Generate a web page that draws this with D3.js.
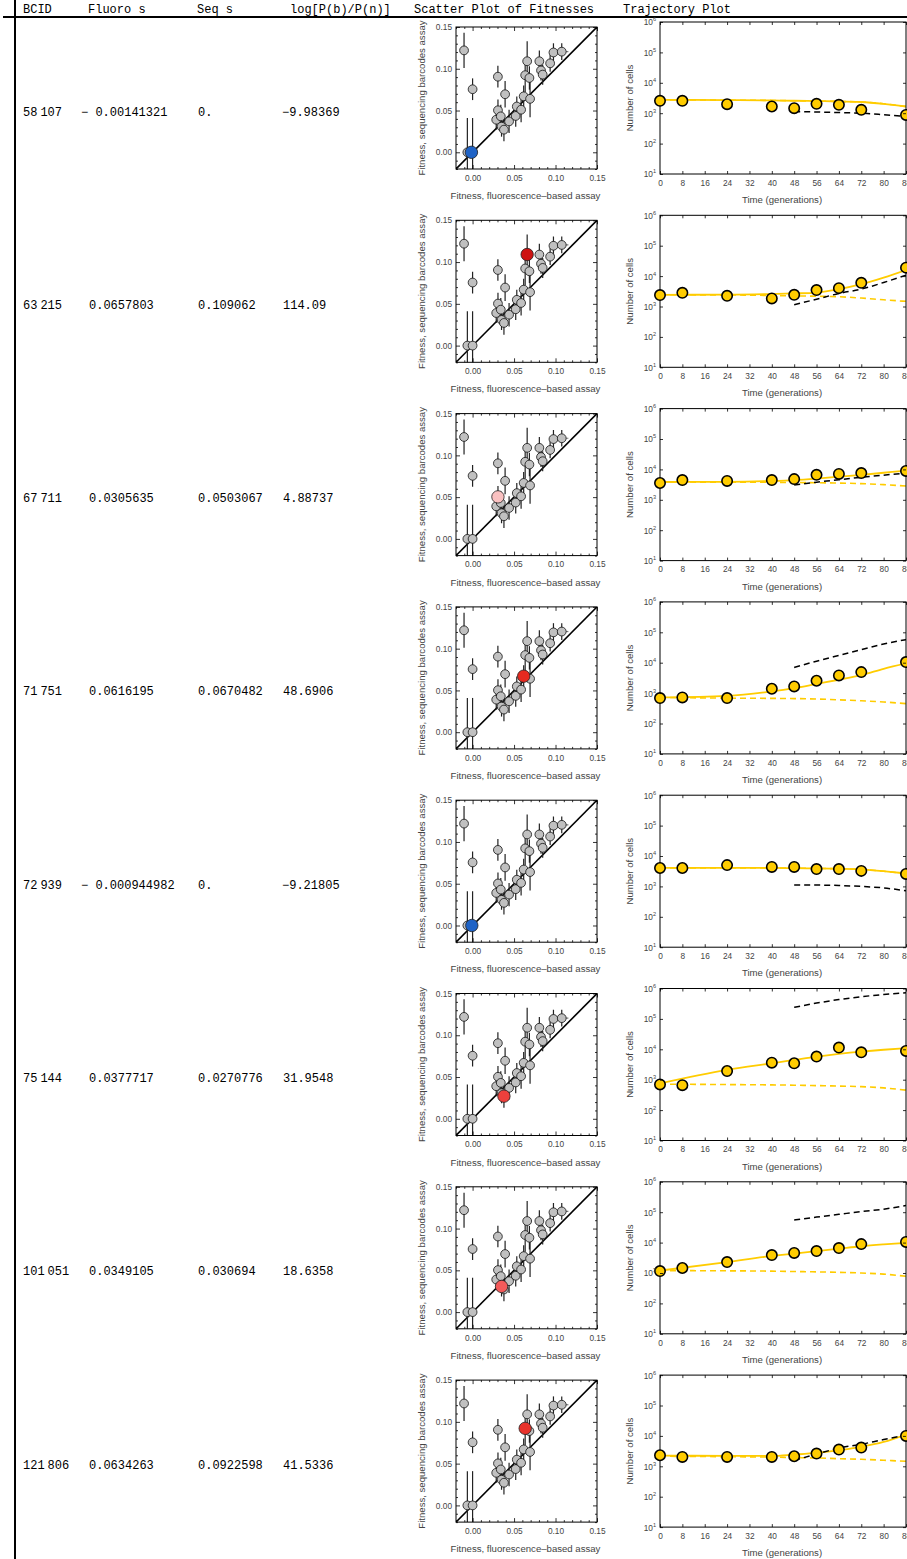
<!DOCTYPE html>
<html>
<head>
<meta charset="utf-8">
<script src="https://cdn.jsdelivr.net/npm/d3@7"></script>
<style>
  body { margin: 0; background: #fff; }
</style>
</head>
<body>
<div id="chart"></div>
<script>
// ---- table data -------------------------------------------------------
const headers = ["BCID", "Fluoro s", "Seq s", "log[P(b)/P(n)]", "Scatter Plot of Fitnesses", "Trajectory Plot"];
const bcids = [58107, 63215, 67711, 71751, 72939, 75144, 101051, 121806];
const fluoroS = [-0.00141321, 0.0657803, 0.0305635, 0.0616195, -0.000944982, 0.0377717, 0.0349105, 0.0634263];
const seqS = [0, 0.109062, 0.0503067, 0.0670482, 0, 0.0270776, 0.030694, 0.0922598];
const logRatio = [-9.98369, 114.09, 4.88737, 48.6906, -9.21805, 31.9548, 18.6358, 41.5336];

// ---- background population of fitness estimates ------------------------
const popFluoro = [-0.0103, 0.0, -0.0063, 0.0, 0.0305, 0.0392, 0.0285, 0.0306, 0.034, 0.0349, 0.0378, 0.044, 0.052, 0.0533, 0.0585, 0.0616, 0.0634, 0.0658, 0.0685, 0.0693, 0.0805, 0.0825, 0.0845, 0.0935, 0.0975, 0.1075];
const popSeq = [0.122, 0.0755, 0, 0, 0.0905, 0.0695, 0.039, 0.0503, 0.043, 0.0307, 0.0271, 0.037, 0.0435, 0.0548, 0.051, 0.067, 0.0923, 0.109, 0.089, 0.064, 0.109, 0.098, 0.093, 0.1065, 0.1195, 0.1205];
const popSeqErr = [0.021, 0.013, 0.041, 0.041, 0.013, 0.016, 0.012, 0.013, 0.014, 0.012, 0.014, 0.014, 0.013, 0.012, 0.015, 0.013, 0.02, 0.024, 0.014, 0.022, 0.013, 0.012, 0.012, 0.01, 0.011, 0.01];
const popFluoroErr = [0, 0, 0, 0, 0, 0, 0, 0, 0, 0, 0, 0, 0, 0, 0, 0, 0, 0, 0, 0, 0.004, 0, 0, 0.004, 0.004, 0.008];
const fitnessTicks = [0, 0.05, 0.10, 0.15];

// ---- trajectories --------------------------------------------------------
const sampleTimes = [0, 8, 24, 40, 48, 56, 64, 72, 88];
const cellCounts = [
  [2550, 2550, 1980, 1660, 1460, 2040, 1880, 1290, 880],
  [2370, 2810, 2240, 1840, 2430, 3470, 4020, 6020, 19000],
  [3570, 4470, 4170, 4470, 4790, 6610, 7080, 7590, 8910],
  [684, 720, 684, 1390, 1660, 2550, 3800, 4900, 10500],
  [4030, 4030, 5010, 4370, 4370, 3720, 3720, 3240, 2570],
  [697, 660, 1930, 3630, 3470, 5750, 11400, 7940, 8850],
  [1160, 1460, 2290, 3890, 4570, 5250, 6610, 8910, 10500],
  [2310, 2030, 2030, 2030, 2140, 2620, 3550, 4120, 10000]
];
const curveTimes = [0, 24, 40, 48, 56, 64, 72, 80, 88];
const fittedCounts = [
  [2750, 2690, 2630, 2570, 2510, 2430, 2340, 2040, 1660],
  [2430, 2450, 2570, 2690, 2880, 3720, 5430, 8900, 15800],
  [3850, 3900, 4170, 4470, 5010, 5750, 6610, 7760, 9120],
  [720, 810, 1135, 1460, 2000, 2750, 3890, 6300, 9500],
  [4070, 4070, 4070, 3980, 3900, 3800, 3630, 3160, 2630],
  [750, 2090, 3470, 4470, 5750, 7080, 8410, 9660, 10800],
  [1200, 2290, 3630, 4370, 5250, 6310, 7590, 8710, 9770],
  [2240, 2210, 2190, 2430, 2750, 3390, 4370, 6310, 11100]
];
const neutralCounts = [
  [2750, 2690, 2630, 2570, 2510, 2430, 2340, 2040, 1660],
  [2430, 2400, 2300, 2240, 2180, 2090, 1900, 1660, 1480],
  [3850, 3800, 3750, 3700, 3650, 3550, 3400, 3150, 2850],
  [720, 684, 670, 660, 640, 600, 560, 510, 450],
  [4070, 4070, 4070, 3980, 3900, 3800, 3630, 3160, 2630],
  [716, 692, 675, 660, 640, 617, 590, 537, 452],
  [1200, 1180, 1150, 1120, 1090, 1050, 1000, 920, 780],
  [2140, 2070, 2000, 1930, 1880, 1780, 1700, 1580, 1460]
];
const adaptiveTimes = [48, 56, 64, 72, 80, 88];
const adaptiveCounts = [
  [1135, 1100, 1050, 1000, 890, 780],
  [1150, 1740, 2690, 3720, 6170, 10700],
  [3090, 3800, 4570, 5500, 6460, 7590],
  [7000, 11200, 17400, 26900, 41200, 57500],
  [1120, 1110, 1070, 1000, 890, 720],
  [240000, 331000, 432000, 537000, 631000, 720000],
  [55000, 69000, 85000, 105000, 126000, 165000],
  [1580, 2510, 3980, 5310, 7590, 10500]
];
const timeTicks = d3.range(0, 89, 8);
const countTicks = [1e1, 1e2, 1e3, 1e4, 1e5, 1e6];

// ---- layout ------------------------------------------------------------
const W = 907, H = 1559;
const ROW_H = 193.3;
const MONO = "'Courier New','Liberation Mono',monospace";
const SANS = "Arial,'Liberation Sans',Helvetica,sans-serif";
const SC = { left: 456, right: 597, top: 27, bottom: 169 };
const TR = { left: 660, right: 906, top: 22, bottom: 174 };
const GOLD = "#ffcc00";
const TICK_FONT = 8.3;
const LABEL_FONT = 9.6;

const svg = d3.select("#chart").append("svg")
  .attr("width", W).attr("height", H)
  .attr("viewBox", `0 0 ${W} ${H}`);
svg.append("rect").attr("width", W).attr("height", H).attr("fill", "#fff");
const defs = svg.append("defs");

// header row and table rules
const headerX = [23, 88, 197, 290, 414, 623];
svg.append("g").selectAll("text").data(headers).join("text")
  .attr("x", (d, i) => headerX[i]).attr("y", 13)
  .attr("font-family", MONO).attr("font-size", 12).attr("fill", "#000")
  .text(d => d);
svg.append("line").attr("x1", 3).attr("x2", W).attr("y1", 17).attr("y2", 17)
  .attr("stroke", "#000").attr("stroke-width", 2);
svg.append("line").attr("x1", 15).attr("x2", 15).attr("y1", 0).attr("y2", H)
  .attr("stroke", "#000").attr("stroke-width", 2);

// colour of the highlighted point follows the log odds
const oddsColor = d3.scaleLinear().domain([0, 20, 50, 120])
  .range(["#fde6e6", "#f25050", "#e5281e", "#cc1111"]).clamp(true);
const highlightColor = v => v < 0 ? "#1f63c6" : oddsColor(v);

function fmtNum(v, spaced) {
  if (v === 0) return "0.";
  const s = String(Math.abs(v));
  return v < 0 ? (spaced ? "\u2212 " : "\u2212") + s : s;
}

// scales shared by the panels (each row's group is translated vertically)
const sx = d3.scaleLinear().domain([-0.02, 0.15]).range([SC.left, SC.right]);
const sy = d3.scaleLinear().domain([-0.02, 0.15]).range([SC.bottom, SC.top]);
const tx = d3.scaleLinear().domain([0, 88]).range([TR.left, TR.right]);
const ty = d3.scaleLog().domain([10, 1e6]).range([TR.bottom, TR.top]);

const minorFit = d3.range(-0.02, 0.1501, 0.01).map(d => +d.toFixed(2)).filter(d => !fitnessTicks.includes(d));

function styleAxis(g) {
  g.select(".domain").remove();
  g.selectAll(".tick line").attr("stroke", "#000").attr("stroke-width", 0.8);
  g.selectAll(".tick text").attr("font-family", SANS).attr("font-size", TICK_FONT).attr("fill", "#444");
}

bcids.forEach((id, i) => {
  const oy = i * ROW_H;
  const g = svg.append("g").attr("transform", `translate(0,${oy})`);

  // ---- table cells ----
  const base = 115.5;
  const grp = d3.format(",")(id).split(",");
  const t1 = g.append("text").attr("x", 23).attr("y", base)
    .attr("font-family", MONO).attr("font-size", 12).attr("fill", "#000");
  grp.forEach((part, k) => t1.append("tspan").attr("dx", k ? 3 : 0).text(part));
  g.append("text").attr("x", fluoroS[i] < 0 ? 81 : 89).attr("y", base)
    .attr("font-family", MONO).attr("font-size", 12).attr("fill", "#000")
    .text(fmtNum(fluoroS[i], true));
  g.append("text").attr("x", 198).attr("y", base)
    .attr("font-family", MONO).attr("font-size", 12).attr("fill", "#000")
    .text(fmtNum(seqS[i], false));
  g.append("text").attr("x", logRatio[i] < 0 ? 282 : 283).attr("y", base)
    .attr("font-family", MONO).attr("font-size", 12).attr("fill", "#000")
    .text(fmtNum(logRatio[i], false));

  // ---- scatter plot of fitnesses ----
  const scId = `sc-clip-${i}`;
  defs.append("clipPath").attr("id", scId).append("rect")
    .attr("x", SC.left).attr("y", SC.top)
    .attr("width", SC.right - SC.left).attr("height", SC.bottom - SC.top);

  const sp = g.append("g");
  const clipped = sp.append("g").attr("clip-path", `url(#${scId})`);
  clipped.append("line")
    .attr("x1", sx(-0.02)).attr("y1", sy(-0.02)).attr("x2", sx(0.15)).attr("y2", sy(0.15))
    .attr("stroke", "#000").attr("stroke-width", 1.6);
  const idx = d3.range(popFluoro.length);
  clipped.selectAll(".ey").data(idx).join("line")
    .attr("x1", k => sx(popFluoro[k])).attr("x2", k => sx(popFluoro[k]))
    .attr("y1", k => sy(popSeq[k] - popSeqErr[k])).attr("y2", k => sy(popSeq[k] + popSeqErr[k]))
    .attr("stroke", "#222").attr("stroke-width", 1.2);
  clipped.selectAll(".ex").data(idx.filter(k => popFluoroErr[k] > 0)).join("line")
    .attr("x1", k => sx(popFluoro[k] - popFluoroErr[k])).attr("x2", k => sx(popFluoro[k] + popFluoroErr[k]))
    .attr("y1", k => sy(popSeq[k])).attr("y2", k => sy(popSeq[k]))
    .attr("stroke", "#777").attr("stroke-width", 1.2);
  sp.selectAll(".pt").data(idx).join("circle")
    .attr("cx", k => sx(popFluoro[k])).attr("cy", k => sy(popSeq[k])).attr("r", 4.4)
    .attr("fill", "#c0c0c0").attr("stroke", "#111").attr("stroke-width", 0.8);
  sp.append("circle")
    .attr("cx", sx(fluoroS[i])).attr("cy", sy(seqS[i])).attr("r", 6.2)
    .attr("fill", highlightColor(logRatio[i])).attr("stroke", "#222").attr("stroke-width", 0.8);
  sp.append("rect").attr("x", SC.left).attr("y", SC.top)
    .attr("width", SC.right - SC.left).attr("height", SC.bottom - SC.top)
    .attr("fill", "none").attr("stroke", "#000").attr("stroke-width", 1);

  const f2 = d3.format(".2f");
  sp.append("g").attr("transform", `translate(0,${SC.bottom})`)
    .call(d3.axisBottom(sx).tickValues(fitnessTicks).tickFormat(f2).tickSize(-4).tickPadding(6)).call(styleAxis);
  sp.append("g").attr("transform", `translate(0,${SC.bottom})`)
    .call(d3.axisBottom(sx).tickValues(minorFit).tickFormat("").tickSize(-2)).call(styleAxis);
  sp.append("g").attr("transform", `translate(0,${SC.top})`)
    .call(d3.axisTop(sx).tickValues(fitnessTicks).tickFormat("").tickSize(-4)).call(styleAxis);
  sp.append("g").attr("transform", `translate(0,${SC.top})`)
    .call(d3.axisTop(sx).tickValues(minorFit).tickFormat("").tickSize(-2)).call(styleAxis);
  sp.append("g").attr("transform", `translate(${SC.left},0)`)
    .call(d3.axisLeft(sy).tickValues(fitnessTicks).tickFormat(f2).tickSize(-4).tickPadding(4)).call(styleAxis);
  sp.append("g").attr("transform", `translate(${SC.left},0)`)
    .call(d3.axisLeft(sy).tickValues(minorFit).tickFormat("").tickSize(-2)).call(styleAxis);
  sp.append("g").attr("transform", `translate(${SC.right},0)`)
    .call(d3.axisRight(sy).tickValues(fitnessTicks).tickFormat("").tickSize(-4)).call(styleAxis);
  sp.append("g").attr("transform", `translate(${SC.right},0)`)
    .call(d3.axisRight(sy).tickValues(minorFit).tickFormat("").tickSize(-2)).call(styleAxis);

  sp.append("text").attr("x", (SC.left + SC.right) / 2 - 1).attr("y", 199)
    .attr("text-anchor", "middle").attr("font-family", SANS).attr("font-size", LABEL_FONT).attr("fill", "#444")
    .text("Fitness, fluorescence\u2013based assay");
  sp.append("text").attr("transform", `translate(425,${(SC.top + SC.bottom) / 2}) rotate(-90)`)
    .attr("text-anchor", "middle").attr("font-family", SANS).attr("font-size", LABEL_FONT).attr("fill", "#444")
    .text("Fitness, sequencing barcodes assay");

  // ---- trajectory plot ----
  const trId = `tr-clip-${i}`;
  defs.append("clipPath").attr("id", trId).append("rect")
    .attr("x", TR.left).attr("y", TR.top)
    .attr("width", TR.right - TR.left).attr("height", TR.bottom - TR.top);
  const tp = g.append("g");
  const tc = tp.append("g").attr("clip-path", `url(#${trId})`);
  const line = d3.line().x(d => tx(d[0])).y(d => ty(d[1])).curve(d3.curveMonotoneX);

  tc.append("path").datum(curveTimes.map((t, k) => [t, neutralCounts[i][k]]))
    .attr("d", line).attr("fill", "none").attr("stroke", GOLD)
    .attr("stroke-width", 1.6).attr("stroke-dasharray", "6,4");
  tc.append("path").datum(curveTimes.map((t, k) => [t, fittedCounts[i][k]]))
    .attr("d", line).attr("fill", "none").attr("stroke", GOLD).attr("stroke-width", 1.8);
  tc.append("path").datum(adaptiveTimes.map((t, k) => [t, adaptiveCounts[i][k]]))
    .attr("d", line).attr("fill", "none").attr("stroke", "#000")
    .attr("stroke-width", 1.5).attr("stroke-dasharray", "6,4");

  tp.append("rect").attr("x", TR.left).attr("y", TR.top)
    .attr("width", TR.right - TR.left).attr("height", TR.bottom - TR.top)
    .attr("fill", "none").attr("stroke", "#000").attr("stroke-width", 1);

  tp.selectAll(".obs").data(sampleTimes.map((t, k) => [t, cellCounts[i][k]])).join("circle")
    .attr("cx", d => tx(d[0])).attr("cy", d => ty(d[1])).attr("r", 5.2)
    .attr("fill", GOLD).attr("stroke", "#000").attr("stroke-width", 1.6);

  tp.append("g").attr("transform", `translate(0,${TR.bottom})`)
    .call(d3.axisBottom(tx).tickValues(timeTicks).tickFormat(d3.format("d")).tickSize(-3).tickPadding(6)).call(styleAxis);
  tp.append("g").attr("transform", `translate(0,${TR.top})`)
    .call(d3.axisTop(tx).tickValues(timeTicks).tickFormat("").tickSize(-3)).call(styleAxis);
  const yAx = tp.append("g").attr("transform", `translate(${TR.left},0)`)
    .call(d3.axisLeft(ty).tickValues(countTicks).tickFormat("").tickSize(-3)).call(styleAxis);
  yAx.selectAll(".tick").append("text")
    .attr("x", -4).attr("dy", "0.35em").attr("text-anchor", "end")
    .attr("font-family", SANS).attr("font-size", TICK_FONT).attr("fill", "#444")
    .each(function (d) {
      const t = d3.select(this);
      t.append("tspan").text("10");
      t.append("tspan").attr("dy", -4).attr("font-size", 5.6).text(Math.round(Math.log10(d)));
    });
  tp.append("g").attr("transform", `translate(${TR.right},0)`)
    .call(d3.axisRight(ty).tickValues(countTicks).tickFormat("").tickSize(-3)).call(styleAxis);

  tp.append("text").attr("x", 782).attr("y", 203)
    .attr("text-anchor", "middle").attr("font-family", SANS).attr("font-size", LABEL_FONT).attr("fill", "#444")
    .text("Time (generations)");
  tp.append("text").attr("transform", `translate(633,${(TR.top + TR.bottom) / 2}) rotate(-90)`)
    .attr("text-anchor", "middle").attr("font-family", SANS).attr("font-size", LABEL_FONT).attr("fill", "#444")
    .text("Number of cells");
});
</script>
</body>
</html>
